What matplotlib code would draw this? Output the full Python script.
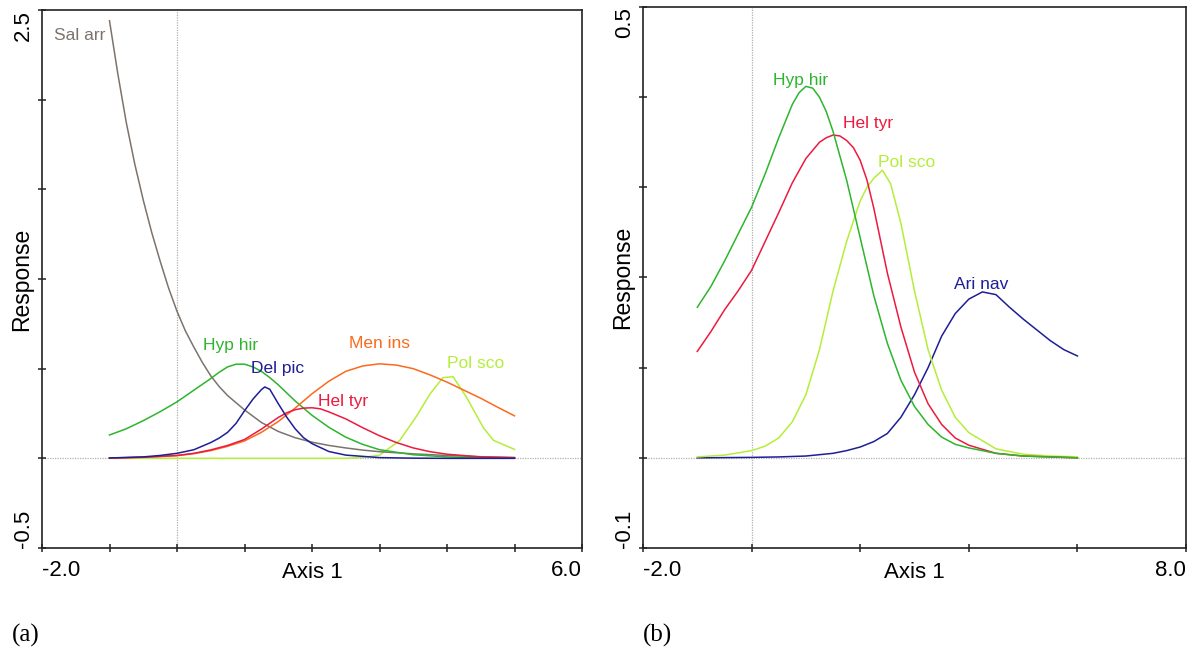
import matplotlib
matplotlib.use("Agg")
import matplotlib.pyplot as plt

plt.rcParams['font.family'] = ['Liberation Sans', 'DejaVu Sans']

# ---- panel (a): response curves along Axis 1 ----
a_sal_arr_x = [-1.0, -0.875, -0.75, -0.625, -0.5, -0.375, -0.25, -0.125, 0.0, 0.125, 0.25, 0.375,
               0.5, 0.625, 0.75, 0.875, 1.0, 1.25, 1.5, 1.75, 2.0, 2.25, 2.5, 2.75, 3.0, 3.5,
               4.0, 4.5, 5.0]
a_sal_arr = [2.44, 2.14, 1.87, 1.64, 1.44, 1.26, 1.10, 0.95, 0.82, 0.71, 0.62, 0.535,
             0.46, 0.40, 0.35, 0.31, 0.27, 0.20, 0.15, 0.115, 0.09, 0.072, 0.058, 0.046, 0.037,
             0.025, 0.016, 0.009, 0.005]

a_hyp_hir_x = [-1.0, -0.75, -0.5, -0.25, 0.0, 0.25, 0.5, 0.625, 0.75, 0.875, 1.0, 1.125, 1.25,
               1.375, 1.5, 1.75, 2.0, 2.25, 2.5, 2.75, 3.0, 3.5, 4.0, 4.5, 5.0]
a_hyp_hir = [0.13, 0.165, 0.21, 0.26, 0.315, 0.38, 0.445, 0.48, 0.51, 0.525, 0.525, 0.51, 0.485,
             0.45, 0.41, 0.32, 0.24, 0.173, 0.118, 0.078, 0.048, 0.02, 0.008, 0.003, 0.001]

a_del_pic_x = [-1.0, -0.5, -0.25, 0.0, 0.25, 0.5, 0.625, 0.75, 0.875, 1.0, 1.125, 1.25, 1.3,
               1.375, 1.5, 1.625, 1.75, 1.875, 2.0, 2.25, 2.5, 3.0, 3.5, 4.0, 5.0]
a_del_pic = [0.002, 0.008, 0.016, 0.028, 0.048, 0.088, 0.113, 0.145, 0.195, 0.265, 0.33, 0.383,
             0.398, 0.385, 0.305, 0.23, 0.165, 0.115, 0.082, 0.038, 0.018, 0.004, 0.001, 0.0, 0.0]

a_hel_tyr_x = [-1.0, -0.5, 0.0, 0.25, 0.5, 0.75, 1.0, 1.25, 1.5, 1.625, 1.75, 1.875, 2.0, 2.125,
               2.25, 2.5, 2.75, 3.0, 3.25, 3.5, 3.75, 4.0, 4.5, 5.0]
a_hel_tyr = [0.002, 0.006, 0.016, 0.028, 0.047, 0.072, 0.105, 0.163, 0.228, 0.254, 0.271, 0.28,
             0.282, 0.276, 0.259, 0.22, 0.171, 0.126, 0.088, 0.058, 0.037, 0.023, 0.008, 0.003]

a_men_ins_x = [-1.0, -0.75, -0.5, -0.25, 0.0, 0.25, 0.5, 0.75, 1.0, 1.25, 1.5, 1.75, 2.0,
               2.25, 2.5, 2.75, 3.0, 3.25, 3.5, 3.75, 4.0, 4.25, 4.5, 4.75, 5.0]
a_men_ins = [0.002, 0.003, 0.006, 0.010, 0.015, 0.026, 0.043, 0.067, 0.097, 0.145, 0.205, 0.28,
             0.36, 0.43, 0.485, 0.515, 0.527, 0.52, 0.5, 0.465, 0.425, 0.38, 0.335, 0.285, 0.237]

a_pol_sco_x = [-1.0, 2.5, 2.75, 3.0, 3.3, 3.54, 3.75, 3.94, 4.09, 4.29, 4.54, 4.69, 5.0]
a_pol_sco = [0.0, 0.0, 0.005, 0.017, 0.10, 0.23, 0.36, 0.45, 0.455, 0.34, 0.17, 0.10, 0.05]

a_xticks = [-2, -1, 0, 1, 2, 3, 4, 5, 6]
a_xticklabels = ['-2.0', '', '', '', '', '', '', '', '6.0']
a_yticks = [-0.5, 0.0, 0.5, 1.0, 1.5, 2.0, 2.5]
a_yticklabels = ['-0.5', '', '', '', '', '', '2.5']

# ---- panel (b) ----
b_hyp_hir_x = [-1.0, -0.75, -0.5, -0.25, 0.0, 0.25, 0.5, 0.75, 0.875, 1.0, 1.125, 1.25, 1.375,
               1.5, 1.75, 2.0, 2.25, 2.5, 2.75, 3.0, 3.25, 3.5, 3.75, 4.0, 4.5, 5.0, 5.5, 6.0]
b_hyp_hir = [0.167, 0.19, 0.218, 0.248, 0.278, 0.315, 0.355, 0.392, 0.405, 0.412, 0.41, 0.4,
             0.384, 0.362, 0.308, 0.244, 0.18, 0.127, 0.086, 0.057, 0.037, 0.023, 0.015, 0.011,
             0.005, 0.002, 0.001, 0.0]

b_hel_tyr_x = [-1.0, -0.75, -0.5, -0.25, 0.0, 0.25, 0.5, 0.75, 1.0, 1.25, 1.375, 1.5, 1.625,
               1.75, 1.875, 2.0, 2.125, 2.25, 2.5, 2.75, 3.0, 3.25, 3.5, 3.75, 4.0, 4.5, 5.0,
               5.5, 6.0]
b_hel_tyr = [0.118, 0.14, 0.164, 0.185, 0.208, 0.24, 0.272, 0.305, 0.332, 0.35, 0.355, 0.358,
             0.357, 0.352, 0.344, 0.33, 0.308, 0.277, 0.205, 0.145, 0.095, 0.06, 0.037, 0.022,
             0.014, 0.005, 0.002, 0.001, 0.0]

b_pol_sco_x = [-1.0, -0.5, 0.0, 0.25, 0.5, 0.75, 1.0, 1.25, 1.5, 1.75, 2.0, 2.125, 2.25, 2.41,
               2.56, 2.75, 3.0, 3.25, 3.5, 3.75, 4.0, 4.5, 5.0, 5.5, 6.0]
b_pol_sco = [0.001, 0.003, 0.008, 0.013, 0.022, 0.04, 0.07, 0.12, 0.185, 0.24, 0.285, 0.3,
             0.31, 0.319, 0.304, 0.26, 0.185, 0.12, 0.075, 0.045, 0.028, 0.01, 0.004, 0.002,
             0.001]

b_ari_nav_x = [-1.0, 0.0, 0.5, 1.0, 1.5, 1.75, 2.0, 2.25, 2.5, 2.75, 3.0, 3.25, 3.5, 3.75, 4.0,
               4.25, 4.5, 4.75, 5.0, 5.25, 5.5, 5.75, 6.0]
b_ari_nav = [0.0, 0.0005, 0.001, 0.002, 0.005, 0.008, 0.012, 0.018, 0.027, 0.045, 0.07, 0.10,
             0.135, 0.16, 0.176, 0.184, 0.181, 0.167, 0.154, 0.142, 0.13, 0.12, 0.113]

b_xticks = [-2, 0, 2, 4, 6, 8]
b_xticklabels = ['-2.0', '', '', '', '', '8.0']
b_yticks = [-0.1, 0.0, 0.1, 0.2, 0.3, 0.4, 0.5]
b_yticklabels = ['-0.1', '', '', '', '', '', '0.5']

GRAY = '#7c746c'
GREEN = '#2db52d'
NAVY = '#1e1e96'
RED = '#ec1a3e'
ORANGE = '#fb6a1c'
LIME = '#b4ee3a'


def style_axes(ax, xlim, ylim, xticks, xlabels, yticks, ylabels, h_px, w_px):
    ax.set_xlim(*xlim)
    ax.set_ylim(*ylim)
    ax.axhline(0, color='#b0b0b0', lw=0.9, ls=(0, (1, 1)), zorder=1)
    ax.axvline(0, color='#b0b0b0', lw=0.9, ls=(0, (1, 1)), zorder=1)
    for s in ax.spines.values():
        s.set_color('#222222')
        s.set_linewidth(1.2)
    ax.set_xticks(xticks)
    ax.set_xticklabels(xlabels, fontsize=16)
    ax.set_yticks(yticks)
    ax.set_yticklabels(ylabels, fontsize=16, rotation=90)
    ax.tick_params(direction='inout', length=6, width=1.1, color='#222222')
    ax.tick_params(axis='x', pad=6)
    ax.tick_params(axis='y', pad=3)
    xl = ax.get_xticklabels()
    xl[0].set_ha('left')
    xl[-1].set_ha('right')
    yl = ax.get_yticklabels()
    yl[0].set_va('bottom')
    yl[-1].set_va('top')
    ax.set_xlabel('Axis 1', fontsize=16)
    ax.xaxis.set_label_coords(0.5, -14 / h_px)
    ax.set_ylabel('Response', fontsize=16.5)
    ax.yaxis.set_label_coords(-9 / w_px, 0.5)


fig = plt.figure(figsize=(11.95, 6.51), dpi=100)

# panel (a)
ax1 = fig.add_axes([42 / 1195, 1 - 548 / 651, 540 / 1195, 538 / 651])
style_axes(ax1, (-2, 6), (-0.5, 2.5), a_xticks, a_xticklabels, a_yticks, a_yticklabels, 538, 540)
lw = 1.1
ax1.plot(a_pol_sco_x, a_pol_sco, color=LIME, lw=lw)
ax1.plot(a_sal_arr_x, a_sal_arr, color=GRAY, lw=lw)
ax1.plot(a_hyp_hir_x, a_hyp_hir, color=GREEN, lw=lw)
ax1.plot(a_men_ins_x, a_men_ins, color=ORANGE, lw=lw)
ax1.plot(a_hel_tyr_x, a_hel_tyr, color=RED, lw=lw)
ax1.plot(a_del_pic_x, a_del_pic, color=NAVY, lw=lw)
fs = 12.5
ax1.text(-1.82, 2.36, 'Sal arr', color=GRAY, fontsize=fs, ha='left', va='center')
ax1.text(0.79, 0.63, 'Hyp hir', color=GREEN, fontsize=fs, ha='center', va='center')
ax1.text(1.49, 0.5, 'Del pic', color=NAVY, fontsize=fs, ha='center', va='center')
ax1.text(2.46, 0.315, 'Hel tyr', color=RED, fontsize=fs, ha='center', va='center')
ax1.text(3.0, 0.64, 'Men ins', color=ORANGE, fontsize=fs, ha='center', va='center')
ax1.text(4.42, 0.53, 'Pol sco', color=LIME, fontsize=fs, ha='center', va='center')

# panel (b)
ax2 = fig.add_axes([643 / 1195, 1 - 548 / 651, 543 / 1195, 541 / 651])
style_axes(ax2, (-2, 8), (-0.1, 0.5), b_xticks, b_xticklabels, b_yticks, b_yticklabels, 541, 543)
ax2.plot(b_ari_nav_x, b_ari_nav, color=NAVY, lw=lw)
ax2.plot(b_pol_sco_x, b_pol_sco, color=LIME, lw=lw)
ax2.plot(b_hel_tyr_x, b_hel_tyr, color=RED, lw=lw)
ax2.plot(b_hyp_hir_x, b_hyp_hir, color=GREEN, lw=lw)
ax2.text(0.91, 0.419, 'Hyp hir', color=GREEN, fontsize=fs, ha='center', va='center')
ax2.text(2.15, 0.371, 'Hel tyr', color=RED, fontsize=fs, ha='center', va='center')
ax2.text(2.86, 0.327, 'Pol sco', color=LIME, fontsize=fs, ha='center', va='center')
ax2.text(4.22, 0.192, 'Ari nav', color=NAVY, fontsize=fs, ha='center', va='center')

fig.text(12 / 1195, 1 - 635 / 651, '(a)', fontsize=18, family='Liberation Serif', va='center')
fig.text(643 / 1195, 1 - 635 / 651, '(b)', fontsize=18, family='Liberation Serif', va='center')

fig.savefig('out.png', dpi=100, facecolor='white')
